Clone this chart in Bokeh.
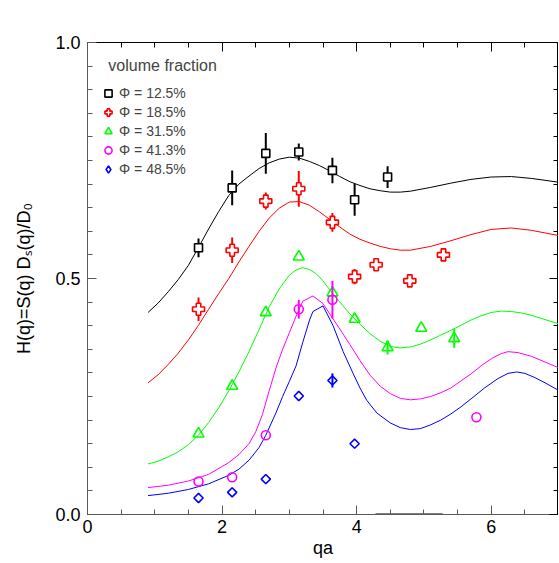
import numpy as np
from bokeh.plotting import figure
from bokeh.models import (FixedTicker, LinearAxis, Legend, LegendItem, Label,
                          PrintfTickFormatter, Range1d, CustomJSTickFormatter)
from bokeh.embed import file_html
from bokeh.resources import INLINE

# ---------------- data ----------------
series_labels = ["Φ = 12.5%", "Φ = 18.5%", "Φ = 31.5%", "Φ = 41.3%", "Φ = 48.5%"]
series_colors = ["#000000", "#ff0000", "#00ff00", "#ff00ff", "#0000ff"]

# measured points
qa_125 = [1.65, 2.15, 2.65, 3.14, 3.64, 3.97, 4.46]
h_125 = [0.565, 0.692, 0.765, 0.768, 0.729, 0.667, 0.715]
err_125 = [0.020, 0.037, 0.043, 0.018, 0.027, 0.034, 0.023]

qa_185 = [1.65, 2.15, 2.65, 3.14, 3.64, 3.97, 4.29, 4.79, 5.29]
h_185 = [0.435, 0.560, 0.664, 0.690, 0.619, 0.504, 0.529, 0.495, 0.550]
err_185 = [0.025, 0.027, 0.018, 0.038, 0.020, 0.016, 0.0, 0.0, 0.0]

qa_315 = [1.65, 2.15, 2.65, 3.14, 3.64, 3.97, 4.46, 4.96, 5.45]
h_315 = [0.171, 0.272, 0.428, 0.546, 0.470, 0.414, 0.354, 0.395, 0.373]
err_315 = [0.0, 0.0, 0.0, 0.0, 0.0, 0.0, 0.015, 0.0, 0.020]

qa_413 = [1.65, 2.15, 2.65, 3.14, 3.64, 5.78]
h_413 = [0.070, 0.079, 0.168, 0.435, 0.455, 0.206]
err_413 = [0.0, 0.0, 0.0, 0.020, 0.040, 0.0]

qa_485 = [1.65, 2.15, 2.65, 3.14, 3.64, 3.97]
h_485 = [0.035, 0.047, 0.075, 0.251, 0.284, 0.150]
err_485 = [0.0, 0.0, 0.0, 0.0, 0.015, 0.0]

# model curves
fit_x = [0.9, 1.05, 1.2, 1.35, 1.5, 1.65, 1.8, 1.95, 2.1, 2.25, 2.4, 2.55, 2.7, 2.85,
         3.0, 3.15, 3.3, 3.45, 3.6, 3.75, 3.9, 4.05, 4.2, 4.35, 4.5, 4.65, 4.8, 5.1,
         5.4, 5.7, 6.0, 6.3, 6.6, 7.0]
fit_125 = [0.428, 0.448, 0.472, 0.498, 0.528, 0.566, 0.605, 0.642, 0.676, 0.700,
           0.717, 0.733, 0.745, 0.753, 0.757, 0.755, 0.748, 0.739, 0.728, 0.716,
           0.705, 0.697, 0.690, 0.686, 0.683, 0.683, 0.685, 0.693, 0.702, 0.710,
           0.715, 0.716, 0.712, 0.704]
fit_185 = [0.279, 0.296, 0.318, 0.342, 0.370, 0.401, 0.435, 0.468, 0.500, 0.535,
           0.568, 0.600, 0.628, 0.649, 0.662, 0.663, 0.655, 0.641, 0.625, 0.609,
           0.594, 0.583, 0.575, 0.568, 0.563, 0.560, 0.560, 0.568, 0.580, 0.593,
           0.604, 0.607, 0.602, 0.591]

fit_315_x = [0.9, 1.05, 1.2, 1.35, 1.5, 1.65, 1.8, 1.95, 2.1, 2.25, 2.4, 2.55, 2.7,
             2.85, 3.0, 3.1, 3.2, 3.3, 3.4, 3.5, 3.6, 3.75, 3.9, 4.05, 4.2, 4.35,
             4.5, 4.65, 4.8, 4.95, 5.1, 5.25, 5.4, 5.55, 5.7, 5.85, 6.0, 6.15, 6.3,
             6.45, 6.6, 6.8, 7.0]
fit_315 = [0.107, 0.113, 0.122, 0.133, 0.148, 0.168, 0.195, 0.226, 0.262, 0.302,
           0.345, 0.392, 0.440, 0.478, 0.507, 0.518, 0.523, 0.519, 0.510, 0.495,
           0.476, 0.450, 0.425, 0.403, 0.383, 0.367, 0.356, 0.353, 0.355, 0.361,
           0.370, 0.380, 0.390, 0.401, 0.412, 0.421, 0.428, 0.431, 0.430, 0.427,
           0.422, 0.413, 0.404]

fit_413_x = [0.9, 1.2, 1.5, 1.8, 2.1, 2.25, 2.4, 2.5, 2.6, 2.7, 2.8, 2.9, 3.0, 3.1,
             3.2, 3.35, 3.5, 3.6, 3.75, 3.9, 4.05, 4.2, 4.35, 4.5, 4.65, 4.8, 4.95,
             5.1, 5.25, 5.4, 5.55, 5.7, 5.85, 6.0, 6.15, 6.25, 6.4, 6.6, 6.8, 7.0]
fit_413 = [0.057, 0.062, 0.071, 0.085, 0.110, 0.127, 0.150, 0.175, 0.212, 0.262,
           0.310, 0.350, 0.385, 0.420, 0.452, 0.463, 0.447, 0.425, 0.393, 0.360,
           0.326, 0.295, 0.272, 0.256, 0.246, 0.243, 0.245, 0.250, 0.258, 0.268,
           0.283, 0.298, 0.315, 0.330, 0.341, 0.345, 0.343, 0.335, 0.323, 0.311]

fit_485_x = [0.9, 1.2, 1.5, 1.8, 2.1, 2.25, 2.4, 2.55, 2.65, 2.8, 2.9, 3.0, 3.1, 3.2,
             3.3, 3.35, 3.5, 3.65, 3.8, 3.95, 4.05, 4.15, 4.3, 4.5, 4.65, 4.8, 4.95,
             5.1, 5.25, 5.4, 5.55, 5.7, 5.9, 6.1, 6.25, 6.38, 6.5, 6.65, 6.8, 7.0]
fit_485 = [0.040, 0.045, 0.053, 0.065, 0.083, 0.096, 0.115, 0.142, 0.168, 0.215,
           0.250, 0.282, 0.315, 0.365, 0.412, 0.430, 0.442, 0.400, 0.345, 0.298,
           0.268, 0.242, 0.215, 0.194, 0.184, 0.180, 0.182, 0.190, 0.200, 0.213,
           0.228, 0.245, 0.268, 0.288, 0.299, 0.302, 0.299, 0.290, 0.279, 0.263]

axis_segment_x = [4.28, 5.28]

x_ticks = [0, 2, 4, 6]
y_ticks = [0.0, 0.5, 1.0]

# ---------------- figure ----------------
FONT = "Liberation Sans"
p = figure(width=558, height=560, output_backend="svg", toolbar_location=None,
           x_range=Range1d(0, 7), y_range=Range1d(0, 1.0),
           min_border_left=87, min_border_right=0, min_border_top=42,
           min_border_bottom=10)
p.background_fill_color = "white"
p.border_fill_color = "white"
p.outline_line_color = "black"
p.xgrid.visible = False
p.ygrid.visible = False

xt = FixedTicker(ticks=x_ticks, minor_ticks=list(np.arange(0, 7.01, 0.5)))
yt = FixedTicker(ticks=y_ticks, minor_ticks=list(np.round(np.arange(0, 1.001, 0.05), 2)))
blank = CustomJSTickFormatter(code="return ''")


def style_axis(ax, labels=True, color="black"):
    ax.axis_line_color = color
    ax.major_tick_line_color = color
    ax.minor_tick_line_color = color
    ax.major_tick_in = 9
    ax.major_tick_out = 0
    ax.minor_tick_in = 5
    ax.minor_tick_out = 0
    if labels:
        ax.major_label_text_font = FONT
        ax.major_label_text_font_size = "18px"
        ax.major_label_text_color = "black"
        ax.axis_label_text_font = FONT
        ax.axis_label_text_font_size = "18px"
        ax.axis_label_text_font_style = "normal"
        ax.axis_label_text_color = "black"
    else:
        ax.formatter = blank
        ax.major_label_standoff = 0
        ax.axis_label = None


p.xaxis.ticker = xt
p.yaxis.ticker = yt
p.yaxis.formatter = PrintfTickFormatter(format="%.1f")
style_axis(p.xaxis[0], color="#5a5a5a")
style_axis(p.yaxis[0], color="#5a5a5a")
p.xaxis.axis_label = "qa"
p.yaxis.axis_label = "H(q)=S(q) Dₛ(q)/D₀"
p.xaxis.major_label_standoff = 5
p.xaxis.axis_label_standoff = 2
p.yaxis.major_label_standoff = 7
p.yaxis.axis_label_standoff = 18

top_ax = LinearAxis(ticker=xt)
right_ax = LinearAxis(ticker=yt)
style_axis(top_ax, labels=False)
style_axis(right_ax, labels=False)
p.add_layout(top_ax, "above")
p.add_layout(right_ax, "right")

# curves
p.line(fit_x, fit_125, line_color=series_colors[0], line_width=1)
p.line(fit_x, fit_185, line_color=series_colors[1], line_width=1)
p.line(fit_315_x, fit_315, line_color=series_colors[2], line_width=1)
p.line(fit_413_x, fit_413, line_color=series_colors[3], line_width=1)
p.line(fit_485_x, fit_485, line_color=series_colors[4], line_width=1)

# error bars + markers
series = [
    (qa_125, h_125, err_125, "square", 8, "white", 0, None),
    (qa_185, h_185, err_185, "plus", 12, "white", 0, None),
    (qa_315, h_315, err_315, "triangle", 11, None, 0, None),
    (qa_413, h_413, err_413, "circle", 9, None, 0, None),
    (qa_485, h_485, err_485, "square", 6.5, None, np.pi / 4, "diamond"),
]
items = []
for (xs, ys, es, mk, sz, fill, ang, legend_mk), col, lab in zip(series, series_colors, series_labels):
    y0 = [y - e for y, e in zip(ys, es)]
    y1 = [y + e for y, e in zip(ys, es)]
    p.segment(x0=xs, x1=xs, y0=y0, y1=y1, line_color=col, line_width=2)
    r = p.scatter(xs, ys, marker=mk, size=sz, line_color=col, line_width=1.6,
                  fill_color=fill if fill else None, fill_alpha=1 if fill else 0,
                  angle=ang)
    if legend_mk:
        # legend-only twin (hidden in the plot) so the key shows a diamond
        r = p.scatter(xs, ys, marker=legend_mk, size=sz, line_color=col,
                      line_width=1.6, fill_alpha=0, visible=False)
    items.append(LegendItem(label=lab, renderers=[r]))

p.segment(x0=[axis_segment_x[0]], x1=[axis_segment_x[1]], y0=[0], y1=[0],
          line_color="black", line_width=2)

legend = Legend(items=items, location=(12, 336), orientation="vertical",
                padding=0, spacing=1, margin=0,
                glyph_width=18, glyph_height=18, label_height=18,
                label_standoff=2, label_text_font=FONT,
                label_text_font_size="14px", border_line_alpha=0,
                background_fill_alpha=0, inactive_fill_alpha=0)
p.add_layout(legend, "center")

p.add_layout(Label(x=0.31, y=0.952, text="volume fraction", text_font=FONT,
                   text_font_size="16px", text_baseline="middle", text_align="left"))

open("out.html", "w").write(file_html(p, INLINE))
